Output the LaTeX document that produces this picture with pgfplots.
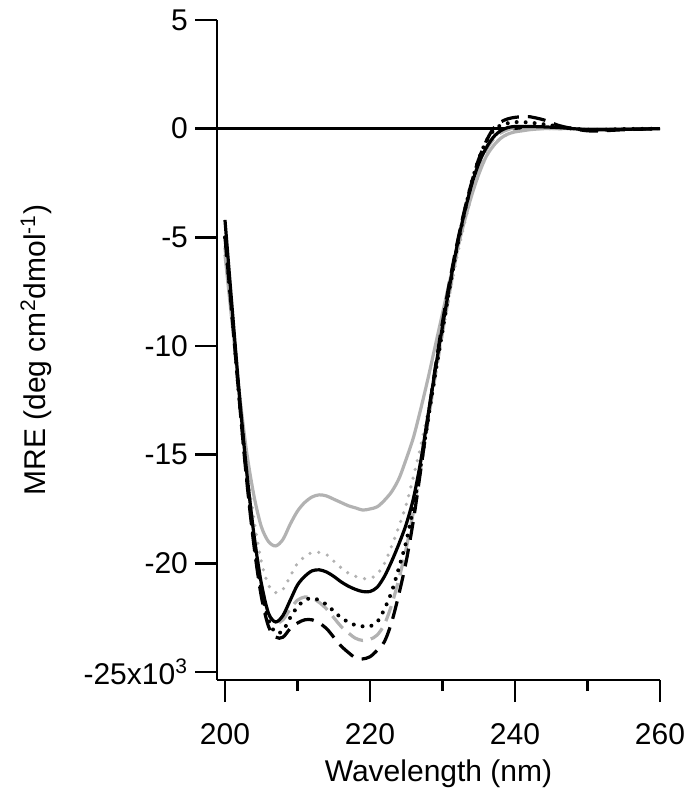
\documentclass[border=0pt]{standalone}
\usepackage{pgfplots}
\pgfplotsset{compat=1.18}
\usepackage{pgfplotstable}
\usepackage{fontspec}
\setmainfont{Liberation Sans}
\definecolor{cdgray}{RGB}{178,178,178}

% wavelength (nm), MRE (x10^3) for six samples
\pgfplotstableread{
x    gs     gdot   bs     bdot   gdash  bdash
200 -5.8   -5.5   -4.2   -5.0   -5.5   -5.0
201 -9.0   -8.8   -8.3   -8.6   -8.7   -8.7
202 -12.2  -12.3  -12.3  -12.5  -12.4  -12.6
203 -14.9  -15.5  -15.8  -16.0  -15.8  -16.2
204 -16.9  -18.0  -18.7  -19.0  -18.7  -19.2
205 -18.3  -19.9  -20.9  -21.2  -20.9  -21.5
206 -19.0  -21.0  -22.3  -22.6  -22.3  -22.9
207 -19.2  -21.35 -22.7  -23.2  -22.75 -23.4
208 -18.9  -21.2  -22.4  -23.1  -22.6  -23.4
209 -18.2  -20.6  -21.7  -22.5  -22.1  -23.0
210 -17.6  -20.0  -21.0  -22.0  -21.7  -22.75
211 -17.2  -19.7  -20.6  -21.7  -21.55 -22.6
212 -16.95 -19.5  -20.35 -21.6  -21.6  -22.6
213 -16.85 -19.5  -20.3  -21.7  -21.8  -22.75
214 -16.9  -19.6  -20.4  -21.9  -22.1  -23.0
215 -17.05 -19.9  -20.6  -22.2  -22.5  -23.4
216 -17.2  -20.2  -20.85 -22.5  -22.9  -23.8
217 -17.35 -20.45 -21.05 -22.7  -23.2  -24.1
218 -17.45 -20.6  -21.2  -22.85 -23.45 -24.35
219 -17.55 -20.7  -21.3  -22.9  -23.55 -24.4
220 -17.5  -20.7  -21.3  -22.9  -23.5  -24.3
221 -17.4  -20.5  -21.1  -22.7  -23.3  -24.0
222 -17.1  -20.0  -20.6  -22.1  -22.8  -23.6
223 -16.7  -19.2  -19.9  -21.3  -21.9  -22.7
224 -16.1  -18.3  -19.1  -20.2  -20.7  -21.4
225 -15.2  -17.3  -18.2  -19.0  -19.3  -19.9
226 -14.2  -16.0  -17.0  -17.4  -17.6  -18.0
227 -12.9  -14.6  -15.3  -15.5  -15.6  -15.7
228 -11.5  -13.0  -13.2  -13.4  -13.5  -13.3
229 -10.0  -11.2  -11.1  -11.3  -11.4  -11.0
230 -8.5   -9.4   -9.1   -9.3   -9.4   -8.9
231 -7.0   -7.6   -7.2   -7.3   -7.5   -7.0
232 -5.6   -5.9   -5.4   -5.5   -5.7   -5.3
233 -4.3   -4.4   -3.9   -3.9   -4.1   -3.8
234 -3.1   -3.1   -2.6   -2.5   -2.8   -2.5
235 -2.1   -2.1   -1.6   -1.4   -1.8   -1.4
236 -1.3   -1.3   -0.9   -0.6   -1.0   -0.6
237 -0.8   -0.8   -0.4   -0.1   -0.5    0.0
238 -0.45  -0.45  -0.1    0.15  -0.2    0.3
239 -0.25  -0.25   0.05   0.25  -0.05   0.45
240 -0.15  -0.1    0.1    0.3    0.05   0.52
241 -0.1   -0.05   0.1    0.3    0.05   0.55
242 -0.05   0.0    0.1    0.28   0.05   0.55
244  0.0    0.0    0.08   0.2    0.03   0.4
246  0.0    0.0    0.05   0.1    0.0    0.15
248  0.0    0.0    0.0    0.0    0.0    0.0
250  0.0    0.0   -0.05  -0.05   0.0   -0.1
252  0.0    0.0   -0.05  -0.05   0.0   -0.1
255  0.0    0.0   -0.03  -0.02   0.0   -0.05
260  0.0    0.0    0.0    0.0    0.0    0.0
}\cdtable

\begin{document}
\begin{tikzpicture}
  \useasboundingbox (-108.5pt,-57.5pt) rectangle (237.5pt,340pt);
  \begin{axis}[
      scale only axis,
      width=221.5pt, height=330pt,
      xmin=198.9, xmax=260,
      ymin=-25.37, ymax=5,
      axis lines*=left,
      axis line style={line width=1.3pt},
      tick align=outside,
      tick pos=left,
      major tick length=11pt,
      minor tick length=5.5pt,
      every tick/.style={black, line width=1.3pt},
      xtick={200,220,240,260},
      xticklabels={200,220,240,260},
      minor xtick={210,230,250},
      ytick={-25,-20,-15,-10,-5,0,5},
      yticklabels={-25x10\textsuperscript{3},-20,-15,-10,-5,0,5},
      ticklabel style={font=\fontsize{15pt}{18pt}\selectfont},
      xticklabel style={yshift=-7pt},
      xlabel={Wavelength (nm)},
      ylabel={MRE (deg cm\textsuperscript{2}dmol\textsuperscript{-1})},
      label style={font=\fontsize{15pt}{18pt}\selectfont},
      xlabel style={at={(axis description cs:0.5,-0.11)}, anchor=north},
      ylabel style={at={(axis description cs:-0.357,0.5)}, anchor=south, rotate=0},
      clip=false,
    ]
    \addplot[black, line width=1.4pt] coordinates {(198.9,0) (260,0)};
    \addplot[cdgray, line width=1.6pt, smooth] table[x=x, y=gs] {\cdtable};
    \addplot[cdgray, line width=1.8pt, smooth, line cap=round, dash pattern=on 0pt off 4.5pt] table[x=x, y=gdot] {\cdtable};
    \addplot[cdgray, line width=1.6pt, smooth, dash pattern=on 8pt off 4pt] table[x=x, y=gdash] {\cdtable};
    \addplot[black, line width=1.6pt, smooth] table[x=x, y=bs] {\cdtable};
    \addplot[black, line width=2pt, smooth, line cap=round, dash pattern=on 0pt off 4.5pt] table[x=x, y=bdot] {\cdtable};
    \addplot[black, line width=1.6pt, smooth, dash pattern=on 9pt off 4.5pt] table[x=x, y=bdash] {\cdtable};
  \end{axis}
\end{tikzpicture}
\end{document}
